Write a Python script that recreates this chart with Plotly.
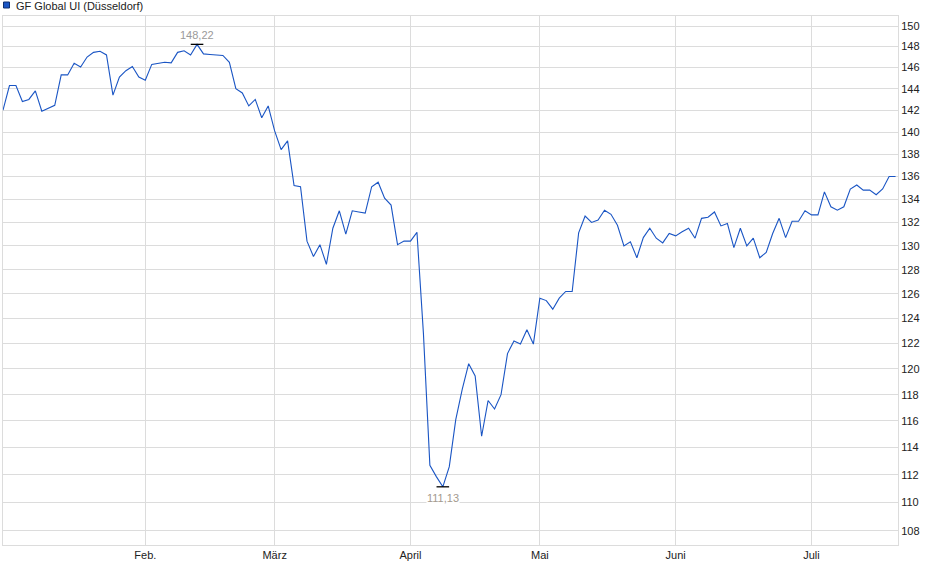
import numpy as np
import pandas as pd
import plotly.graph_objects as go

# ---- data -------------------------------------------------------------
series_name = "GF Global UI (Düsseldorf)"
holidays = ["2025-01-01", "2025-04-18", "2025-04-21", "2025-05-01"]
start_date = "2025-01-02"
end_date = "2025-07-18"

prices = [
    142.0, 144.3, 144.3, 142.8, 143.0, 143.8, 141.9, 142.2, 142.45, 145.3,
    145.3, 146.4, 146.05, 147.0, 147.45, 147.55, 147.2, 143.4, 145.1, 145.7,
    146.1, 145.1, 144.8, 146.3, 146.4, 146.5, 146.45, 147.45, 147.6, 147.2,
    148.22, 147.3, 147.25, 147.2, 147.15, 146.5, 144.0, 143.6, 142.4, 143.0,
    141.3, 142.4, 140.1, 138.4, 139.2, 135.2, 135.1, 130.4, 129.1, 130.1,
    128.45, 131.5, 133.0, 131.0, 133.0, 132.9, 132.8, 135.1, 135.5, 134.1,
    133.5, 130.1, 130.4, 130.4, 131.15, 122.8, 112.7, 111.87, 111.13, 112.6,
    116.1, 118.4, 120.4, 119.45, 114.85, 117.55, 116.9, 118.0, 121.2, 122.2,
    121.95, 123.1, 121.95, 125.65, 125.45, 124.75, 125.65, 126.2, 126.2, 131.1,
    132.55, 132.0, 132.2, 133.05, 132.7, 131.75, 130.0, 130.35, 129.0, 130.7,
    131.5, 130.65, 130.25, 131.05, 130.85, 131.2, 131.5, 130.65, 132.35, 132.45,
    132.9, 131.7, 131.9, 129.85, 131.5, 130.0, 130.65, 129.0, 129.45, 131.05,
    132.35, 130.7, 132.1, 132.1, 133.0, 132.65, 132.65, 134.65, 133.35, 133.05,
    133.35, 134.9, 135.25, 134.8, 134.8, 134.4, 134.9, 136.0, 136.0,
]

month_tick_dates = ["2025-01-02", "2025-02-03", "2025-03-03", "2025-04-01",
                    "2025-05-02", "2025-06-02", "2025-07-01"]
month_tick_labels = ["", "Feb.", "März", "April", "Mai", "Juni", "Juli"]
y_ticks = list(range(108, 151, 2))

# ---- build ------------------------------------------------------------
dates = pd.bdate_range(start_date, end_date, freq="C", holidays=holidays)
n = min(len(dates), len(prices))
dates = dates[:n]
prices = prices[:n]

LINE = "#1a55c4"
GRID = "#dcdcdc"
FONT = "Liberation Sans, Arial, sans-serif"

fig = go.Figure()
fig.add_trace(go.Scatter(
    x=dates, y=prices, mode="lines",
    line=dict(color=LINE, width=1.1),
    showlegend=False, hoverinfo="x+y",
))

imax = int(np.argmax(prices))
imin = int(np.argmin(prices))
fig.add_trace(go.Scatter(
    x=[dates[imax], dates[imin]], y=[prices[imax], prices[imin]],
    mode="markers",
    marker=dict(symbol="line-ew", size=9, line=dict(color="#000000", width=1.3)),
    showlegend=False, hoverinfo="skip",
))

def fmt(v):
    return f"{v:.2f}".replace(".", ",")

fig.add_annotation(x=dates[imax], y=np.log10(prices[imax]), text=fmt(prices[imax]),
                   showarrow=False, yanchor="bottom", yshift=2,
                   font=dict(family=FONT, size=11, color="#9a9a9a"),
                   bgcolor="white", borderpad=0)
fig.add_annotation(x=dates[imin], y=np.log10(prices[imin]), text=fmt(prices[imin]),
                   showarrow=False, yanchor="top", yshift=-4,
                   font=dict(family=FONT, size=11, color="#a39a8e"),
                   bgcolor="white", borderpad=0)

# legend-like header
fig.add_shape(type="rect", xref="paper", yref="paper",
              xsizemode="pixel", ysizemode="pixel", xanchor=0, yanchor=1,
              x0=0.5, x1=6.5, y0=8, y1=14,
              fillcolor=LINE, line=dict(color="#0d2f70", width=1))
fig.add_annotation(xref="paper", yref="paper", x=0, y=1, xshift=11, yshift=10,
                   xanchor="left", yanchor="middle", showarrow=False,
                   text=series_name,
                   font=dict(family=FONT, size=11, color="#222222"))

fig.update_layout(
    width=940, height=579,
    margin=dict(l=3, r=42, t=16, b=34),
    paper_bgcolor="white", plot_bgcolor="white",
    font=dict(family=FONT, size=11, color="#222222"),
    showlegend=False,
)
fig.update_xaxes(
    type="date",
    range=["2025-01-01 13:00", "2025-07-18 09:00"],
    rangebreaks=[dict(bounds=["sat", "mon"]), dict(values=holidays)],
    tickmode="array", tickvals=month_tick_dates, ticktext=month_tick_labels,
    showgrid=True, gridcolor=GRID, gridwidth=1,
    showline=True, linecolor=GRID, linewidth=1, mirror=True,
    ticks="", tickfont=dict(family=FONT, size=11, color="#222222"),
    zeroline=False,
)
fig.update_yaxes(
    type="log", side="right",
    range=[np.log10(107.0), np.log10(150.98)],
    tickmode="array", tickvals=y_ticks, ticktext=[str(t) for t in y_ticks],
    showgrid=True, gridcolor=GRID, gridwidth=1,
    showline=True, linecolor=GRID, linewidth=1, mirror=True,
    ticks="", tickfont=dict(family=FONT, size=11, color="#222222"),
    zeroline=False,
)

fig.write_html("out.html",
               config={"displayModeBar": False},
               post_script="document.body.style.margin='0';document.body.style.overflow='hidden';")
